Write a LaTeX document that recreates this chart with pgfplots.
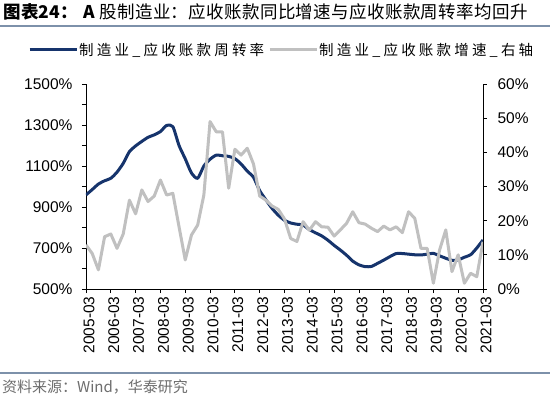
\documentclass[border=0pt]{standalone}
\usepackage{pgfplots}
\usepackage{pgfplotstable}
\pgfplotsset{compat=1.18}
\usepackage{fontspec}
\setmainfont{Liberation Sans}
\newfontfamily\cjk{Noto Sans CJK SC}
\newfontfamily\cjktitle{Noto Sans CJK SC}[LetterSpace=2]
\newfontfamily\cjkleg{Noto Sans CJK SC}[LetterSpace=22]
\definecolor{navy}{RGB}{22,52,108}
\definecolor{lgray}{RGB}{192,192,192}
\definecolor{rulec}{RGB}{125,145,170}
\definecolor{srcc}{RGB}{110,110,110}

\pgfplotstableread{
q v
0 959
1 985
2 1012
3 1028
4 1040
5 1070
6 1113
7 1170
8 1198
9 1220
10 1240
11 1252
12 1268
13 1298
14 1292
15 1200
16 1135
17 1066
18 1040
19 1100
20 1133
21 1153
22 1150
23 1147
24 1136
25 1110
26 1075
27 1045
28 980
29 935
30 893
31 860
32 835
33 822
34 816
35 812
36 790
37 774
38 759
39 738
40 713
41 690
42 665
43 636
44 618
45 609
46 610
47 625
48 641
49 658
50 673
51 673
52 670
53 667
54 666
55 670
56 674
57 662
58 650
59 640
60 642
61 655
62 667
63 700
64 739
}\turnover

\pgfplotstableread{
q v
0 12.9
1 10.4
2 5.6
3 15.3
4 16.1
5 11.9
6 16.1
7 26.0
8 22.0
9 29.0
10 25.6
11 27.2
12 31.9
13 27.5
14 28.0
15 18.2
16 8.5
17 15.8
18 18.7
19 27.5
20 49.0
21 46.0
22 46.0
23 29.5
24 40.9
25 39.2
26 41.2
27 36.6
28 27.2
29 26.0
30 24.3
31 23.3
32 20.5
33 14.8
34 13.9
35 19.7
36 17.2
37 19.7
38 18.2
39 18.1
40 15.5
41 17.3
42 19.2
43 22.6
44 19.4
45 19.0
46 17.8
47 16.8
48 18.4
49 17.3
50 18.2
51 16.5
52 22.6
53 20.7
54 11.9
55 11.9
56 1.7
57 11.4
58 17.3
59 5.1
60 10.0
61 1.7
62 4.6
63 3.6
64 13.8
}\growth

\pgfplotsset{
  common/.style={
    at={(86pt,-289pt)}, anchor=south west,
    scale only axis, width=397pt, height=205pt,
    xmin=0, xmax=64,
    tick align=outside,
    major tick length=4pt, minor tick length=4pt,
    every tick/.style={black, line width=0.8pt},
    axis line style={black, line width=0.8pt, -},
    /pgf/number format/assume math mode=true,
    /pgf/number format/1000 sep={},
    tick label style={font=\fontsize{15.5}{16}\selectfont, black},
  }
}

\begin{document}
\begin{tikzpicture}
\useasboundingbox (0,0) rectangle (550pt,-399pt);
\fill[white] (0,0) rectangle (550pt,-399pt);
\node[anchor=west, inner sep=0] at (3pt,-12pt) {\cjktitle\fontsize{17.5}{20}\selectfont \textbf{图表24：\;A} 股制造业：应收账款同比增速与应收账款周转率均回升};
\draw[rulec, line width=2pt] (0,-25.5pt) -- (550pt,-25.5pt);
\draw[rulec, line width=1.5pt] (0,-373pt) -- (550pt,-373pt);
\node[anchor=west, inner sep=0, text=srcc] at (2pt,-387pt) {\cjk\fontsize{15}{16}\selectfont 资料来源：Wind，华泰研究};

\begin{axis}[common,
  ymin=500, ymax=1500,
  axis y line*=left, axis x line*=bottom,
  xtick={0,4,...,64},
  xticklabels={2005-03,2006-03,2007-03,2008-03,2009-03,2010-03,2011-03,2012-03,2013-03,2014-03,2015-03,2016-03,2017-03,2018-03,2019-03,2020-03,2021-03},
  x tick label style={rotate=90, anchor=east, yshift=-3pt},
  ytick={500,700,...,1500},
  minor ytick={600,800,...,1400},
  yticklabel={\pgfmathprintnumber{\tick}\%},
  y tick label style={xshift=-6pt},
]
\addplot[navy, line width=3pt, line join=round, smooth, tension=0.4] table[x=q, y=v] {\turnover};
\end{axis}

\begin{axis}[common,
  ymin=0, ymax=60,
  axis y line*=right, axis x line=none,
  ytick={0,10,...,60},
  yticklabel={\pgfmathprintnumber{\tick}\%},
  y tick label style={xshift=7pt},
  legend columns=2,
  legend style={draw=none, fill=none, at={(-0.146,1.166)}, anchor=west, inner sep=0pt,
    font=\cjkleg\fontsize{14.5}{16}\selectfont,
    nodes={inner sep=1pt},
    /tikz/every even column/.append style={column sep=3pt}},
  legend image code/.code={\draw[#1] (0pt,0pt) -- (47pt,0pt);},
]
\addlegendimage{navy, line width=3pt}
\addlegendentry{制造业\_应收账款周转率}
\addplot[lgray, line width=3pt, line join=round] table[x=q, y=v] {\growth};
\addlegendentry{制造业\_应收账款增速\_右轴}
\end{axis}
\end{tikzpicture}
\end{document}
